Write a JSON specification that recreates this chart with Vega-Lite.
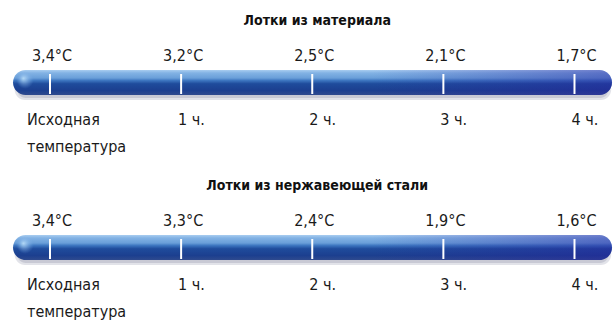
{
  "$schema": "https://vega.github.io/schema/vega-lite/v6.json",
  "width": 614,
  "height": 320,
  "autosize": {"type": "fit", "contains": "padding"},
  "padding": 0,
  "background": "white",
  "config": {"view": {"stroke": null}},
  "datasets": {
    "panels": [
      {"p": 0, "title": "Лотки из материала"},
      {"p": 1, "title": "Лотки из нержавеющей стали"}
    ],
    "points": [
      {"p": 0, "h": 0, "temp": "3,4°C", "time": "Исходная\nтемпература"},
      {"p": 0, "h": 1, "temp": "3,2°C", "time": "1 ч."},
      {"p": 0, "h": 2, "temp": "2,5°C", "time": "2 ч."},
      {"p": 0, "h": 3, "temp": "2,1°C", "time": "3 ч."},
      {"p": 0, "h": 4, "temp": "1,7°C", "time": "4 ч."},
      {"p": 1, "h": 0, "temp": "3,4°C", "time": "Исходная\nтемпература"},
      {"p": 1, "h": 1, "temp": "3,3°C", "time": "1 ч."},
      {"p": 1, "h": 2, "temp": "2,4°C", "time": "2 ч."},
      {"p": 1, "h": 3, "temp": "1,9°C", "time": "3 ч."},
      {"p": 1, "h": 4, "temp": "1,6°C", "time": "4 ч."}
    ]
  },
  "layer": [
    {
      "data": {"name": "panels"},
      "mark": {"type": "rect", "cornerRadius": 11, "color": "#8a90a6", "opacity": 0.25, "yOffset": -4, "y2Offset": 17},
      "encoding": {
        "x": {"datum": -0.27, "type": "quantitative", "scale": {"domain": [-0.3813, 4.3013], "nice": false, "zero": false}, "axis": null},
        "x2": {"datum": 4.28},
        "y": {"field": "p", "type": "quantitative", "scale": {"domain": [-0.503, 1.4364], "reverse": true, "nice": false, "zero": false}, "axis": null},
        "y2": {"field": "p"}
      }
    },
    {
      "data": {"name": "panels"},
      "mark": {"type": "rect", "cornerRadius": 10, "color": "#8a90a6", "opacity": 0.3, "yOffset": -2, "y2Offset": 15},
      "encoding": {
        "x": {"datum": -0.25, "type": "quantitative"},
        "x2": {"datum": 4.26},
        "y": {"field": "p", "type": "quantitative"},
        "y2": {"field": "p"}
      }
    },
    {
      "data": {"name": "panels"},
      "mark": {
        "type": "rect",
        "cornerRadius": 12.5,
        "yOffset": -13,
        "y2Offset": 12,
        "fill": {
          "gradient": "linear", "x1": 0, "y1": 0, "x2": 0, "y2": 1,
          "stops": [
            {"offset": 0, "color": "#a9cdf0"},
            {"offset": 0.12, "color": "#82b2e4"},
            {"offset": 0.32, "color": "#6a9fd9"},
            {"offset": 0.42, "color": "#3d76c0"},
            {"offset": 0.55, "color": "#1f4c9c"},
            {"offset": 0.82, "color": "#1c3f8f"},
            {"offset": 1, "color": "#2f4a8e"}
          ]
        }
      },
      "encoding": {
        "x": {"datum": -0.282, "type": "quantitative"},
        "x2": {"datum": 4.286},
        "y": {"field": "p", "type": "quantitative"},
        "y2": {"field": "p"}
      }
    },
    {
      "data": {"name": "panels"},
      "mark": {
        "type": "rect",
        "cornerRadius": 12.5,
        "yOffset": -13,
        "y2Offset": 12,
        "fill": {
          "gradient": "linear", "x1": 0, "y1": 0, "x2": 1, "y2": 0,
          "stops": [
            {"offset": 0, "color": "rgba(40,30,160,0)"},
            {"offset": 0.6, "color": "rgba(40,30,160,0)"},
            {"offset": 1, "color": "rgba(40,30,160,0.45)"}
          ]
        }
      },
      "encoding": {
        "x": {"datum": -0.282, "type": "quantitative"},
        "x2": {"datum": 4.286},
        "y": {"field": "p", "type": "quantitative"},
        "y2": {"field": "p"}
      }
    },
    {
      "data": {"name": "panels"},
      "mark": {
        "type": "point",
        "shape": "circle",
        "filled": true,
        "size": 300,
        "yOffset": -3,
        "fill": {
          "gradient": "radial", "x1": 0.4, "y1": 0.4, "r1": 0, "x2": 0.5, "y2": 0.5, "r2": 0.5,
          "stops": [
            {"offset": 0, "color": "rgba(190,225,250,0.9)"},
            {"offset": 1, "color": "rgba(120,170,230,0)"}
          ]
        },
        "opacity": 1
      },
      "encoding": {
        "x": {"datum": -0.19, "type": "quantitative"},
        "y": {"field": "p", "type": "quantitative"}
      }
    },
    {
      "data": {"name": "points"},
      "mark": {"type": "rule", "color": "white", "strokeWidth": 2, "yOffset": -9, "y2Offset": 11},
      "encoding": {
        "x": {"field": "h", "type": "quantitative"},
        "y": {"field": "p", "type": "quantitative"},
        "y2": {"field": "p"}
      }
    },
    {
      "data": {"name": "points"},
      "mark": {"type": "text", "font": "Liberation Sans Narrow, DejaVu Sans Condensed, sans-serif", "fontSize": 16, "color": "#1a1a1a", "align": "center", "baseline": "middle", "dy": -27, "dx": 2},
      "encoding": {
        "x": {"field": "h", "type": "quantitative"},
        "y": {"field": "p", "type": "quantitative"},
        "text": {"field": "temp"}
      }
    },
    {
      "data": {"name": "points"},
      "transform": [{"filter": "datum.h > 0"}],
      "mark": {"type": "text", "font": "Liberation Sans Narrow, DejaVu Sans Condensed, sans-serif", "fontSize": 16, "color": "#1a1a1a", "align": "left", "baseline": "middle", "dy": 37, "dx": -3},
      "encoding": {
        "x": {"field": "h", "type": "quantitative"},
        "y": {"field": "p", "type": "quantitative"},
        "text": {"field": "time"}
      }
    },
    {
      "data": {"name": "points"},
      "transform": [{"filter": "datum.h == 0"}],
      "mark": {"type": "text", "font": "Liberation Sans Narrow, DejaVu Sans Condensed, sans-serif", "fontSize": 16, "color": "#1a1a1a", "align": "left", "baseline": "top", "dy": 29, "dx": -23, "lineBreak": "\n", "lineHeight": 27},
      "encoding": {
        "x": {"field": "h", "type": "quantitative"},
        "y": {"field": "p", "type": "quantitative"},
        "text": {"field": "time"}
      }
    },
    {
      "data": {"name": "panels"},
      "mark": {"type": "text", "font": "Liberation Sans Narrow, DejaVu Sans Condensed, sans-serif", "fontSize": 14, "fontWeight": "bold", "color": "#111111", "align": "center", "baseline": "middle", "dy": -62, "dx": 5},
      "encoding": {
        "x": {"datum": 2, "type": "quantitative"},
        "y": {"field": "p", "type": "quantitative"},
        "text": {"field": "title"}
      }
    }
  ]
}
